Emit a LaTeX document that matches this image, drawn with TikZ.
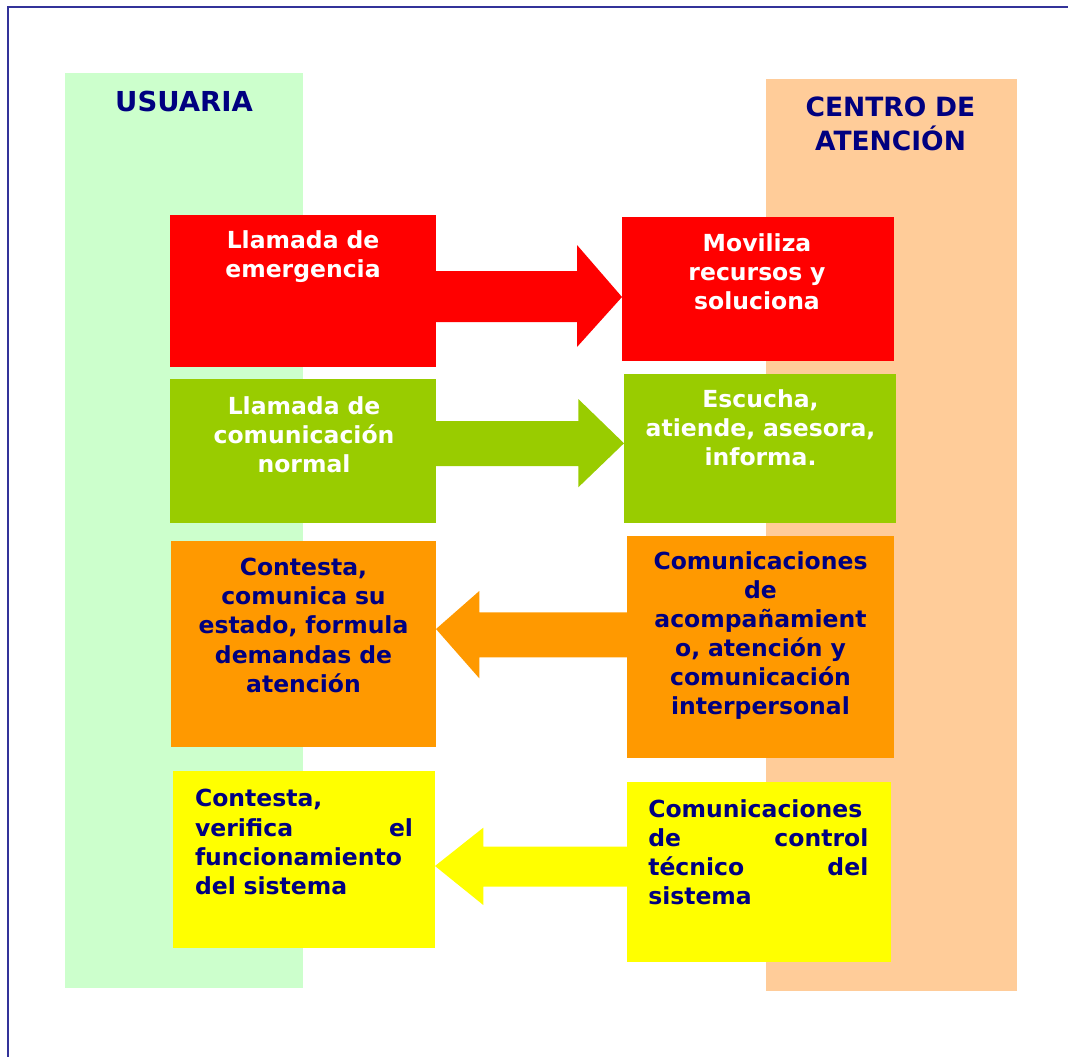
\documentclass[tikz,border=0pt]{standalone}
\usepackage{fontspec}
\setmainfont{DejaVu Sans}
\definecolor{bordblue}{HTML}{333399}
\definecolor{navy}{HTML}{000080}
\definecolor{usrbg}{HTML}{CCFFCC}
\definecolor{ctrbg}{HTML}{FFCC99}
\definecolor{redc}{HTML}{FF0000}
\definecolor{greenc}{HTML}{99CC00}
\definecolor{orangec}{HTML}{FF9900}
\definecolor{yellowc}{HTML}{FFFF00}
\newcommand\fullline[1]{\leavevmode\hbox to\linewidth{#1}}
\begin{document}
\begin{tikzpicture}[x=1pt,y=-1pt,
  band/.style={draw=none,inner sep=0pt,outer sep=0pt,anchor=north west},
  box/.style={draw=none,inner sep=0pt,outer sep=0pt,anchor=north west},
  head/.style={inner sep=0pt,outer sep=0pt,anchor=base,text=navy,align=center,
    text width=240pt,font=\fontsize{26.5}{33.3}\selectfont\bfseries},
  txt/.style={inner sep=0pt,outer sep=0pt,anchor=base,align=center,
    text width=250pt,font=\fontsize{23.5}{29.1}\selectfont\bfseries},
  jtxt/.style={inner sep=0pt,outer sep=0pt,anchor=base west,align=left,
    text=navy,font=\fontsize{23.5}{29.3}\selectfont\bfseries}
]
\useasboundingbox (0,0) rectangle (1068,1057);
% frame
\draw[bordblue,line width=2pt] (8,1070) -- (8,7) -- (1080,7);
% columns
\node[band,fill=usrbg,minimum width=238pt,minimum height=915pt] (ucol) at (65,73) {};
\node[band,fill=ctrbg,minimum width=251pt,minimum height=912pt] (ccol) at (766,79) {};
\node[head,font=\fontsize{27.5}{33.3}\selectfont\bfseries] (uhead) at (184,111.7) {USUARIA};
\node[head] (chead) at (890.5,116.7) {CENTRO DE\\ATENCIÓN};
% boxes
\node[box,fill=redc,minimum width=266pt,minimum height=152pt] (r1l) at (170,215) {};
\node[box,fill=redc,minimum width=272pt,minimum height=144pt] (r1r) at (622,216.7) {};
\node[box,fill=greenc,minimum width=266pt,minimum height=144pt] (r2l) at (170,379) {};
\node[box,fill=greenc,minimum width=272pt,minimum height=149pt] (r2r) at (624,374) {};
\node[box,fill=orangec,minimum width=265pt,minimum height=206pt] (r3l) at (171,541) {};
\node[box,fill=orangec,minimum width=267pt,minimum height=222pt] (r3r) at (627,536) {};
\node[box,fill=yellowc,minimum width=262pt,minimum height=177pt] (r4l) at (173,771) {};
\node[box,fill=yellowc,minimum width=264pt,minimum height=180pt] (r4r) at (627,782) {};
% arrows
\fill[redc] (r1l.east |- 0,271) -- (577,271) -- (577,245) -- (r1r.west |- 0,297)
  -- (577,347) -- (577,322) -- (r1l.east |- 0,322) -- cycle;
\fill[greenc] (r2l.east |- 0,421) -- (578.3,421) -- (578.3,399) -- (r2r.west |- 0,443.3)
  -- (578.3,487.3) -- (578.3,466) -- (r2l.east |- 0,466) -- cycle;
\fill[orangec] (r3r.west |- 0,612.3) -- (479.3,612.3) -- (479.3,591) -- (r3l.east |- 0,629)
  -- (479.3,678.3) -- (479.3,657.3) -- (r3r.west |- 0,657.3) -- cycle;
\fill[yellowc] (r4r.west |- 0,846.7) -- (483.3,846.7) -- (483.3,827.7) -- (r4l.east |- 0,866)
  -- (483.3,905) -- (483.3,886.7) -- (r4r.west |- 0,886.7) -- cycle;
% texts
\node[txt,text=white] (t1l) at (303,248.3) {Llamada de\\emergencia};
\node[txt,text=white] (t1r) at (757,251.7) {Moviliza\\recursos y\\soluciona};
\node[txt,text=white] (t2l) at (304,414) {Llamada de\\comunicación\\normal};
\node[txt,text=white] (t2r) at (760.5,407.7) {Escucha,\\atiende, asesora,\\informa.};
\node[txt,text=navy] (t3l) at (303.5,575.7) {Contesta,\\comunica su\\estado, formula\\demandas de\\atención};
\node[txt,text=navy] (t3r) at (760.5,569.3) {Comunicaciones\\de\\acompañamient\\o, atención y\\comunicación\\interpersonal};
\node[jtxt,text width=218pt] (t4l) at (195,806.7) {Contesta,\\\fullline{verifica\hfill el}\\funcionamiento\\del sistema};
\node[jtxt,text width=220pt] (t4r) at (648.3,817) {Comunicaciones\\\fullline{de\hfill control}\\\fullline{técnico\hfill del}\\sistema};
\end{tikzpicture}
\end{document}
